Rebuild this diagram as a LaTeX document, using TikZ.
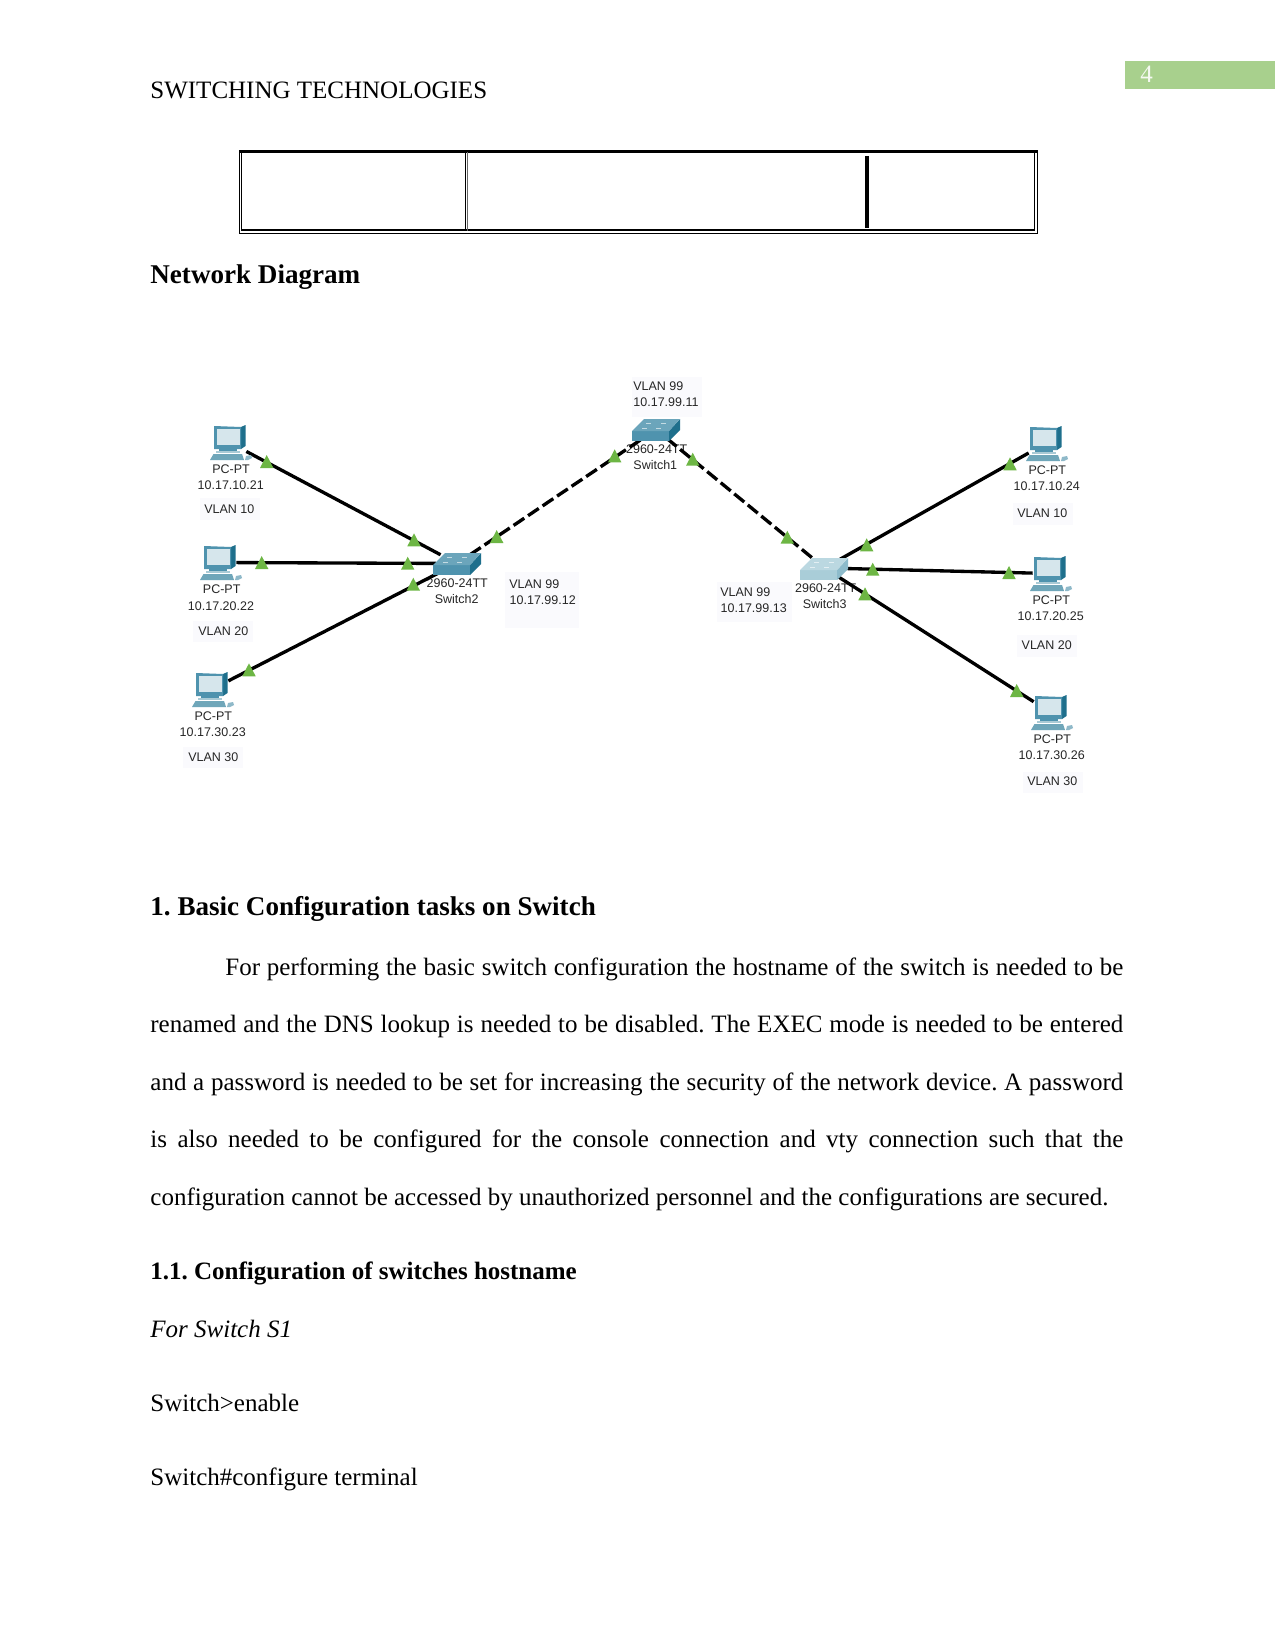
\documentclass[tikz,border=0pt]{standalone}
\usepackage{fontspec}
\setmainfont{Liberation Serif}
\newfontfamily\labelfont{Liberation Sans}
\frenchspacing
\definecolor{lampgreen}{HTML}{6DB644}
\definecolor{tabgreen}{HTML}{A8D08D}
\definecolor{haze}{HTML}{FAFAFD}
\definecolor{devfront}{HTML}{4F93AE}
\definecolor{devtop}{HTML}{6BA5BB}
\definecolor{devside}{HTML}{1E6F8C}
\definecolor{devscreen}{HTML}{D6E6EC}
\definecolor{devbase}{HTML}{6FA6B9}
\definecolor{devmouse}{HTML}{8FB9C9}
\definecolor{palefront}{HTML}{A9CDD8}
\definecolor{paletop}{HTML}{BBD8E1}
\definecolor{paleside}{HTML}{8DBBCB}
\tikzset{
  txt/.style={anchor=base west,inner sep=0pt,font=\fontsize{12}{14}\selectfont},
  headtxt/.style={anchor=base west,inner sep=0pt,font=\fontsize{13}{15}\selectfont\bfseries},
  devlabel/.style={inner sep=0pt,font=\labelfont\fontsize{6}{7}\selectfont,text=black!85},
  pcbox/.style={inner sep=0pt,minimum width=15.8pt,minimum height=16.8pt},
  swbox/.style={inner sep=0pt,minimum width=20pt,minimum height=8pt},
  cable/.style={line width=1.6pt,black},
  trunk/.style={cable,dash pattern=on 6.2pt off 2.2pt},
  hazebox/.style={fill=haze,draw=none}
}
% one computer, located by the top left corner of its bounding box
\newcommand{\pcicon}[2]{%
  \begin{scope}[shift={(#1,#2)}]
    \fill[devbase] (0,35) -- (3.5,29) -- (32,29) -- (34,35) -- cycle;
    \fill[devfront] (9,22) rectangle (27,26);
    \fill[devbase!60!white] (6,26) rectangle (30,28);
    \fill[devside] (31,2) -- (35.5,0) -- (35.5,21) -- (31,24) -- cycle;
    \fill[devfront] (4,1) -- (31,2) -- (31,24) -- (4,24) -- cycle;
    \fill[devscreen] (6.5,3.5) rectangle (29.5,20);
    \fill[devmouse] (36,31) -- (41,30) -- (42,33) -- (38,35) -- (35,35) -- cycle;
  \end{scope}}
% one switch, located by the top left corner of its bounding box
\newcommand{\swicon}[5]{%
  \begin{scope}[shift={(#1,#2)}]
    \fill[#5] (37,13) -- (48,1) -- (48,12) -- (37,23) -- cycle;
    \fill[#3] (0,13) rectangle (37,23);
    \fill[#4] (0,13) -- (12,1) -- (48,1) -- (37,13) -- cycle;
    \draw[white,line width=0.35pt,opacity=.6] (14,5) -- (19,5) (29,5) -- (34,5) (10,10) -- (15,10) (24,10) -- (29,10);
  \end{scope}}
% link light, located by its apex
\newcommand{\lamp}[2]{\fill[lampgreen] (#1,#2) -- (#1+6.7,#2+13) -- (#1-6.7,#2+13) -- cycle;}
\begin{document}
\begin{tikzpicture}[x=0.48pt,y=-0.48pt]
\useasboundingbox (0,0) rectangle (1275,1651);
\fill[white] (0,0) rectangle (1275,1651);

% running head
\node[txt] (head) at (150,99) {SWITCHING TECHNOLOGIES};
\fill[tabgreen] (1125,61) rectangle (1275,89);
\node[txt,text=white!88!tabgreen] (pageno) at (1140,83) {4};

% empty table row
\draw[line width=0.4pt] (239,151) rectangle (1037.5,233);
\draw[line width=0.4pt] (241.5,152) rectangle (1034.5,230.5);
\fill (239,150) rectangle (1037.5,153);
\fill (241.5,229.5) rectangle (1034.5,231);
\draw[line width=0.4pt] (465,152) -- (465,231);
\draw[line width=0.4pt,black!60] (467,152) -- (467,231);
\draw[line width=1.5pt] (867,156) -- (867,228);

\node[headtxt] (netdiag) at (150,283.5) {Network Diagram};

% pale label backgrounds
\fill[hazebox] (505,572) rectangle (579,628);
\fill[hazebox] (200,498) rectangle (260,520);
\fill[hazebox] (193,621) rectangle (253,642);
\fill[hazebox] (183,747) rectangle (243,768);
\fill[hazebox] (632,377) rectangle (702,417);
\fill[hazebox] (1013,503) rectangle (1073,525);
\fill[hazebox] (1017,635) rectangle (1077,657);
\fill[hazebox] (1023,772) rectangle (1083,793);
\fill[hazebox] (717,582) rectangle (792,622);

% device labels
\node[devlabel] (la1) at (231,469.5) {PC-PT};
\node[devlabel] (la2) at (230.7,485.5) {10.17.10.21};
\node[devlabel] (la3) at (229.3,509.5) {VLAN 10};
\node[devlabel] (lb1) at (221.7,589.5) {PC-PT};
\node[devlabel] (lb2) at (221,605.8) {10.17.20.22};
\node[devlabel] (lb3) at (223.3,631.5) {VLAN 20};
\node[devlabel] (lc1) at (213.3,716.5) {PC-PT};
\node[devlabel] (lc2) at (212.7,732.5) {10.17.30.23};
\node[devlabel] (lc3) at (213.3,757.5) {VLAN 30};
\node[devlabel] (ld1) at (1047.3,470) {PC-PT};
\node[devlabel] (ld2) at (1046.7,486) {10.17.10.24};
\node[devlabel] (ld3) at (1042.3,512.7) {VLAN 10};
\node[devlabel] (le1) at (1051.3,600) {PC-PT};
\node[devlabel] (le2) at (1050.7,616) {10.17.20.25};
\node[devlabel] (le3) at (1046.7,645.3) {VLAN 20};
\node[devlabel] (lf1) at (1052.3,739) {PC-PT};
\node[devlabel] (lf2) at (1051.7,755) {10.17.30.26};
\node[devlabel] (lf3) at (1052.3,781) {VLAN 30};
\node[devlabel] (ls1a) at (656.7,449.3) {2960-24TT};
\node[devlabel] (ls1b) at (655.3,465) {Switch1};
\node[devlabel] (ls2a) at (457.3,583.3) {2960-24TT};
\node[devlabel] (ls2b) at (456.7,599) {Switch2};
\node[devlabel] (ls3a) at (825.7,588.3) {2960-24TT};
\node[devlabel] (ls3b) at (824.7,604.3) {Switch3};
\node[devlabel] (vs1a) at (658.3,386) {VLAN 99};
\node[devlabel] (vs1b) at (666,402) {10.17.99.11};
\node[devlabel] (vs2a) at (534.3,584) {VLAN 99};
\node[devlabel] (vs2b) at (542.7,600) {10.17.99.12};
\node[devlabel] (vs3a) at (745.3,591.7) {VLAN 99};
\node[devlabel] (vs3b) at (753.7,608) {10.17.99.13};

% device footprints that the links attach to
\node[pcbox] (pc1) at (229.5,442.5) {};
\node[pcbox] (pc2) at (219.5,562.5) {};
\node[pcbox] (pc3) at (211.5,689.5) {};
\node[pcbox] (pc4) at (1045.5,443.5) {};
\node[pcbox] (pc5) at (1049.5,573.5) {};
\node[pcbox] (pc6) at (1050.5,712.5) {};
\node[swbox] (sw1) at (656,429.5) {};
\node[swbox] (sw2) at (457,563.5) {};
\node[swbox] (sw3) at (824.5,568) {};

% links
\draw[cable] (pc1) -- (sw2);
\draw[cable] (pc2) -- (sw2);
\draw[cable] (pc3) -- (sw2);
\draw[cable] (sw3) -- (pc4);
\draw[cable] (sw3) -- (pc5);
\draw[cable] (sw3) -- (pc6);
\draw[trunk] (sw2) -- (sw1);
\draw[trunk] (sw1) -- (sw3);

% link lights
\lamp{266.7}{455}
\lamp{414}{533.3}
\lamp{261.7}{556}
\lamp{407.7}{556.7}
\lamp{413.3}{577.7}
\lamp{249}{663.3}
\lamp{496.7}{530}
\lamp{614.7}{449.3}
\lamp{692.7}{452.7}
\lamp{787.3}{530.7}
\lamp{1010}{457.3}
\lamp{866.7}{538.3}
\lamp{872.7}{562.7}
\lamp{1009}{566}
\lamp{865}{587.3}
\lamp{1016.7}{684}

% device icons
\pcicon{210}{425}
\pcicon{200}{545}
\pcicon{192}{672}
\pcicon{1026}{426}
\pcicon{1030}{556}
\pcicon{1031}{695}
\swicon{632}{418}{devfront}{devtop}{devside}
\swicon{433}{552}{devfront}{devtop}{devside}
\swicon{800}{557}{palefront}{paletop}{paleside}

% body text
\node[headtxt] (sec1) at (150,915.5) {1. Basic Configuration tasks on Switch};
\node[txt] (p1) at (225,975) {\hbox to 431.0pt{For performing the basic switch configuration the hostname of the switch is needed to be}};
\node[txt] (p2) at (150,1032) {\hbox to 467.0pt{renamed and the DNS lookup is needed to be disabled. The EXEC mode is needed to be entered}};
\node[txt] (p3) at (150,1090) {\hbox to 467.0pt{and a password is needed to be set for increasing the security of the network device. A password}};
\node[txt] (p4) at (150,1147) {\hbox to 467.0pt{is also needed to be configured for the console connection and vty connection such that the}};
\node[txt] (p5) at (150,1205) {configuration cannot be accessed by unauthorized personnel and the configurations are secured.};
\node[anchor=base west,inner sep=0pt,font=\fontsize{12}{14}\selectfont\bfseries] (sec11) at (150,1279) {1.1. Configuration of switches hostname};
\node[anchor=base west,inner sep=0pt,font=\fontsize{12}{14}\selectfont\itshape] (forsw) at (150,1337) {For Switch S1};
\node[txt] (cmd1) at (150,1411) {Switch>enable};
\node[txt] (cmd2) at (150,1485) {Switch\#configure terminal};
\end{tikzpicture}
\end{document}
